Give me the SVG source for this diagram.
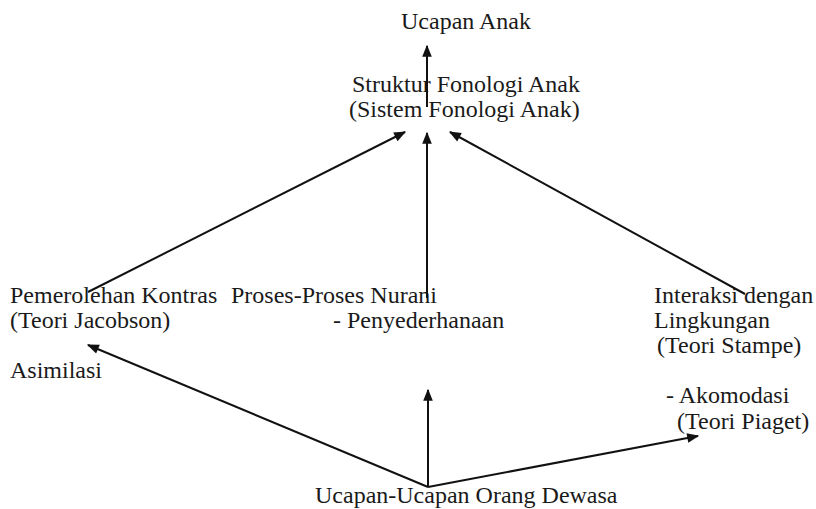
<svg xmlns="http://www.w3.org/2000/svg" width="816" height="509" viewBox="0 0 816 509">
<style>
text{font-family:"Liberation Serif","Times New Roman",serif;font-size:24px;fill:#1a1a1a}
.c line{stroke:#111;stroke-width:2;fill:none}
</style>
<defs>
<marker id="ah" viewBox="0 0 10 10" refX="9" refY="5" markerWidth="7" markerHeight="6" orient="auto" markerUnits="strokeWidth">
<path d="M0,1 L10,5 L0,9 z" fill="#111"/>
</marker>
</defs>
<rect width="816" height="509" fill="#fff"/>
<g id="n-ucapan-anak"><text x="401" y="29">Ucapan Anak</text></g>
<g id="n-struktur"><text x="352" y="92">Struktur Fonologi Anak</text><text x="349" y="117">(Sistem Fonologi Anak)</text></g>
<g id="n-kontras"><text x="10" y="303">Pemerolehan Kontras</text><text x="10" y="328">(Teori Jacobson)</text></g>
<g id="n-asimilasi"><text x="10" y="378">Asimilasi</text></g>
<g id="n-nurani"><text x="231" y="303">Proses-Proses Nurani</text><text x="333" y="328">- Penyederhanaan</text></g>
<g id="n-interaksi"><text x="654" y="303">Interaksi dengan</text><text x="654" y="328">Lingkungan</text><text x="657" y="353">(Teori Stampe)</text></g>
<g id="n-akomodasi"><text x="666" y="403">- Akomodasi</text><text x="677" y="429">(Teori Piaget)</text></g>
<g id="n-dewasa"><text x="315" y="503">Ucapan-Ucapan Orang Dewasa</text></g>
<g class="c" id="connectors">
<line x1="427" y1="107" x2="427" y2="46" marker-end="url(#ah)"/>
<line x1="88" y1="292" x2="405" y2="132" marker-end="url(#ah)"/>
<line x1="427" y1="298" x2="427" y2="133" marker-end="url(#ah)"/>
<line x1="745" y1="294" x2="450" y2="132" marker-end="url(#ah)"/>
<line x1="428" y1="487" x2="88" y2="345" marker-end="url(#ah)"/>
<line x1="428" y1="487" x2="428" y2="390" marker-end="url(#ah)"/>
<line x1="428" y1="487" x2="698" y2="436" marker-end="url(#ah)"/>
</g>
</svg>
